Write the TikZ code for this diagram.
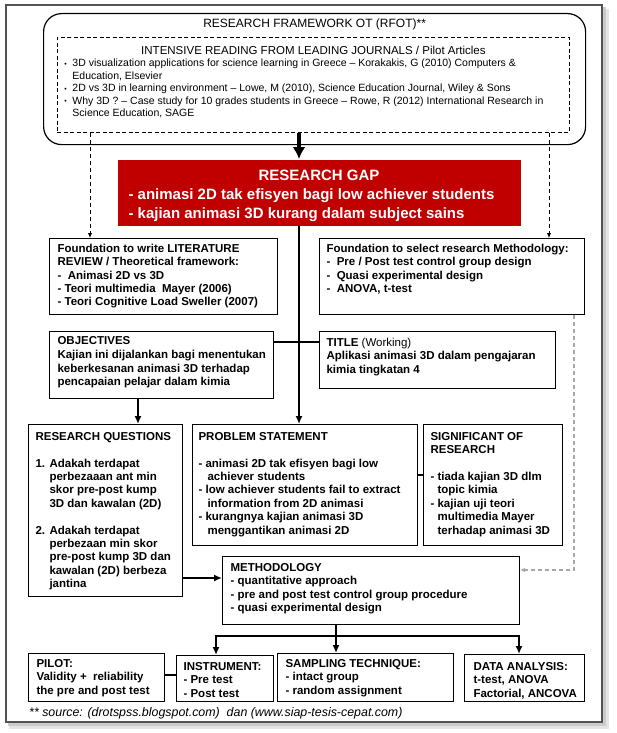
\documentclass[tikz,border=0pt]{standalone}
\usepackage{fontspec}
\setmainfont{Liberation Sans}
\usetikzlibrary{arrows.meta}
\definecolor{gapred}{RGB}{192,0,0}
% [style]{name}{x}{y}{w}{h}{left pad}{first baseline}{content}
\newcommand\tbox[9][]{%
  \node[box,#1,anchor=north west,inner sep=0pt] (#2) at (#3,#4)
    {\parbox[t][#6pt][t]{#5pt}{\setlength\leftskip{#7pt}\setlength\rightskip{-30pt}\rule{0pt}{#8pt}#9}};}
\newcommand\ctr[1]{\hspace*{\fill}{#1}\hspace*{\fill}\hspace*{\dimexpr\leftskip+30pt\relax}}
\newcommand\bul{\makebox[8pt][l]{\raisebox{0.5pt}{\fontsize{7}{7}\selectfont\textbullet}}}
\tikzset{
  box/.style={draw=black, line width=1.1pt, fill=white},
  rbox/.style={draw=black, line width=1.2pt, rounded corners=18pt},
  dbox/.style={draw=black, line width=0.9pt, dash pattern=on 4pt off 2.5pt, font=\fontsize{10.5}{12.5}\selectfont},
  redbox/.style={fill=gapred, draw=none, text=white, font=\fontsize{15}{19}\selectfont\bfseries},
  fb/.style={font=\fontsize{11.5}{13.35}\selectfont\bfseries},
  conn/.style={line width=2pt},
  arr/.style={line width=2pt, -{Latex[length=8pt,width=7pt]}},
  bigarr/.style={line width=3.5pt, -{Latex[length=12pt,width=13pt]}},
  dasharr/.style={line width=0.9pt, dash pattern=on 4pt off 3pt, -{Latex[length=5pt,width=4.5pt]}},
  grayarr/.style={draw=gray!70, line width=1.1pt, dash pattern=on 4pt off 3pt, -{Latex[length=5pt,width=4.5pt]}},
}
\begin{document}
\begin{tikzpicture}[x=1pt,y=-1pt]
\useasboundingbox (0,0) rectangle (617,733);
% outer frame with shadow
\fill[gray!20] (9,9) rectangle (609,729);
\fill[gray!40] (8,7) rectangle (606,726);
\draw[gray!65!black, line width=2.5pt, fill=white] (6,5) rectangle (602,722);

% top block
\tbox[rbox,font=\fontsize{12}{14}\selectfont]{rfot}{43}{13}{542}{131}{0}{14.3}{\ctr{RESEARCH FRAMEWORK OT (RFOT)**}}
\tbox[dbox]{dbox}{57}{37}{512}{95}{7}{17}{\ctr{\fontsize{11.5}{12.5}\selectfont INTENSIVE READING FROM LEADING JOURNALS / Pilot Articles}\\
\bul 3D visualization applications for science learning in Greece – Korakakis, G (2010) Computers \&\\
\hspace*{8pt}Education, Elsevier\\
\bul 2D vs 3D in learning environment – Lowe, M (2010), Science Education Journal, Wiley \& Sons\\
\bul Why 3D ? – Case study for 10 grades students in Greece – Rowe, R (2012) International Research in\\
\hspace*{8pt}Science Education, SAGE}

% research gap
\tbox[redbox]{gap}{117}{159}{403}{66}{11}{20.5}{\ctr{RESEARCH GAP}\\
- animasi 2D tak efisyen bagi low achiever students\\
- kajian animasi 3D kurang dalam subject sains}

% foundations
\tbox[fb]{lit}{49}{238}{228}{76}{8}{14}{Foundation to write LITERATURE\\
REVIEW / Theoretical framework:\\
-\ \ Animasi 2D vs 3D\\
- Teori multimedia\ \ Mayer (2006)\\
- Teori Cognitive Load Sweller (2007)}
\tbox[fb]{mf}{319}{238}{265}{76}{7}{14}{Foundation to select research Methodology:\\
-\ \ Pre / Post test control group design\\
-\ \ Quasi experimental design\\
-\ \ ANOVA, t-test}

% objectives and title
\tbox[fb]{obj}{49}{331}{224}{67}{8}{13}{OBJECTIVES\\[1pt]
Kajian ini dijalankan bagi menentukan\\
keberkesanan animasi 3D terhadap\\
pencapaian pelajar dalam kimia}
\tbox[fb]{title}{319}{331}{236}{57}{7}{15}{TITLE {\mdseries (Working)}\\
Aplikasi animasi 3D dalam pengajaran\\
kimia tingkatan 4}

% middle row
\tbox[fb]{rq}{28}{424}{154}{172}{7}{16}{RESEARCH QUESTIONS\\[13.35pt]
\makebox[14pt][l]{1.}Adakah terdapat\\
\hspace*{14pt}perbezaaan ant min\\
\hspace*{14pt}skor pre-post kump\\
\hspace*{14pt}3D dan kawalan (2D)\\[13.35pt]
\makebox[14pt][l]{2.}Adakah terdapat\\
\hspace*{14pt}perbezaan min skor\\
\hspace*{14pt}pre-post kump 3D dan\\
\hspace*{14pt}kawalan (2D) berbeza\\
\hspace*{14pt}jantina}
\tbox[fb]{ps}{192}{424}{225}{121}{6}{16}{PROBLEM STATEMENT\\[13.35pt]
- animasi 2D tak efisyen bagi low\\
\hspace*{9pt}achiever students\\
- low achiever students fail to extract\\
\hspace*{9pt}information from 2D animasi\\
- kurangnya kajian animasi 3D\\
\hspace*{9pt}menggantikan animasi 2D}
\tbox[fb]{sig}{423}{424}{139}{121}{7}{16}{SIGNIFICANT OF\\
RESEARCH\\[13.35pt]
- tiada kajian 3D dlm\\
\hspace*{7pt}topic kimia\\
- kajian uji teori\\
\hspace*{7pt}multimedia Mayer\\
\hspace*{7pt}terhadap animasi 3D}

% methodology
\tbox[fb]{meth}{222}{556}{297}{68}{8}{15}{METHODOLOGY\\
- quantitative approach\\
- pre and post test control group procedure\\
- quasi experimental design}

% bottom row
\tbox[fb]{pilot}{28}{653}{136}{48}{8}{14}{PILOT:\\
Validity +\ \ reliability\\
the pre and post test}
\tbox[fb]{inst}{176}{655}{97}{46}{7}{15}{INSTRUMENT:\\
- Pre test\\
- Post test}
\tbox[fb]{samp}{277}{653}{176}{48}{8}{14}{SAMPLING TECHNIQUE:\\
- intact group\\
- random assignment}
\tbox[fb]{da}{464}{654}{120}{47}{9}{16}{DATA ANALYSIS:\\
t-test, ANOVA\\
Factorial, ANCOVA}

\node[font=\fontsize{12.4}{14}\selectfont\itshape, anchor=west, inner sep=0pt] (src) at (29,713)
  {** source: (drotspss.blogspot.com)\ \ dan (www.siap-tesis-cepat.com)};

% helper coordinates
\coordinate (sp) at (299,0);
\coordinate (dl) at (90,0);
\coordinate (dr) at (549,0);
\coordinate (ot) at (0,342);
\coordinate (oq) at (138,0);
\coordinate (pq) at (0,475);
\coordinate (rm) at (0,578);
\coordinate (gr) at (574,570);
\coordinate (sy) at (0,636);
\coordinate (sx) at (336,0);
\coordinate (ix) at (216,0);
\coordinate (dx) at (519,0);
\coordinate (pi) at (0,675);

% connectors
\draw[bigarr] (sp |- dbox.south) -- (sp |- gap.north);
\draw[dasharr] (dl |- dbox.south) -- (dl |- lit.north);
\draw[dasharr] (dr |- dbox.south) -- (dr |- mf.north);
\draw[arr] (sp |- gap.south) -- (sp |- ps.north);
\draw[conn] (ot -| obj.east) -- (ot -| title.west);
\draw[arr] (oq |- obj.south) -- (oq |- rq.north);
\draw[line width=1.5pt] (pq -| ps.east) -- (pq -| sig.west);
\draw[arr] (rm -| rq.east) -- (rm -| meth.west);
\draw[grayarr] (gr |- mf.south) -- (gr) -- (gr -| meth.east);
\draw[arr] (sx |- meth.south) -- (sx |- samp.north);
\draw[arr] (sx |- sy) -| (ix |- inst.north);
\draw[arr] (sx |- sy) -| (dx |- da.north);
\draw[conn] (pi -| pilot.east) -- (pi -| inst.west);
\end{tikzpicture}
\end{document}
